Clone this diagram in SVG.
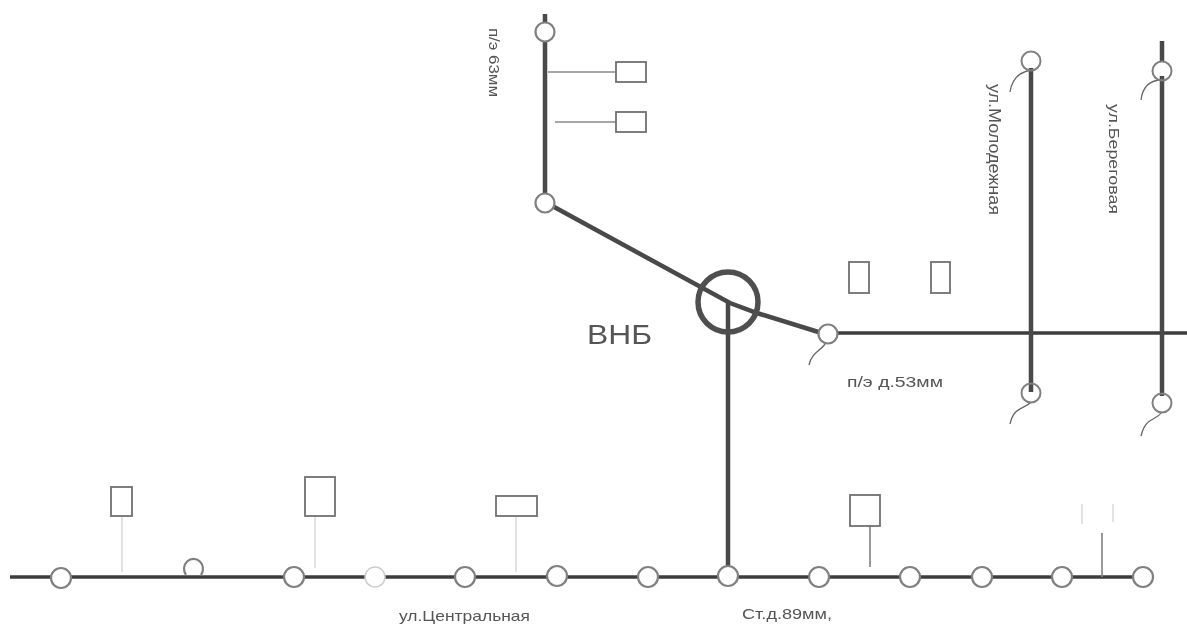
<svg xmlns="http://www.w3.org/2000/svg" width="1187" height="624" viewBox="0 0 1187 624">
<defs><filter id="soft" x="0" y="0" width="100%" height="100%" filterUnits="objectBoundingBox"><feGaussianBlur stdDeviation="0.55"/></filter></defs>
<style>
.m{fill:none;stroke:#484848;stroke-width:4.5}
.t{fill:none;stroke:#3c3c3c;stroke-width:3.5}
.f{fill:none;stroke:#888;stroke-width:1.7}
.p{fill:none;stroke:#d8d8d8;stroke-width:1.5}
.h{fill:none;stroke:#666;stroke-width:1.3}
.n{fill:#fff;stroke:#808080;stroke-width:2.2}
.o{fill:none;stroke:#808080;stroke-width:2}
.r{fill:#fff;stroke:#707070;stroke-width:1.8}
text{font-family:"Liberation Sans",Arial,sans-serif;fill:#555}
</style>
<rect width="1187" height="624" fill="#fff"/>
<g filter="url(#soft)">
<g id="connectors">
<path class="m" d="M545 14V202"/>
<path class="m" d="M545 202L730 303L757 313L828 335"/>
<path class="m" d="M728 303V577"/>
<path class="t" d="M828 333H1187"/>
<path class="m" d="M1031 68V392"/>
<path class="m" d="M1162 41V62M1162 76V396"/>
<path class="t" d="M10 577H1143"/>
<path class="f" d="M548 72H616"/>
<path class="f" d="M555 122H616"/>
<path class="p" d="M122 517V572"/>
<path class="p" d="M315 517V568"/>
<path class="p" d="M516 517V572"/>
<path class="f" d="M870 526V567"/>
<path class="f" d="M1102 533V577"/>
<path class="p" d="M1082 504V524"/>
<path class="p" d="M1113 504V522"/>
<path class="h" d="M1031 70C1020 72 1012 78 1010 92"/>
<path class="h" d="M1162 80C1152 80 1143 84 1141 100"/>
<path class="h" d="M1031 402C1024 410 1014 406 1010 424"/>
<path class="h" d="M1162 412C1155 422 1146 416 1141 436"/>
<path class="h" d="M827 338C826 350 812 350 809 365"/>
</g>
<g id="vnb"><circle cx="728" cy="302" r="30" fill="none" stroke="#505050" stroke-width="5.500"/><text x="587" y="344" font-size="28" textLength="65" lengthAdjust="spacingAndGlyphs">ВНБ</text></g>
<g id="n-top1"><circle class="n" cx="545" cy="32" r="9.500"/></g>
<g id="n-top2"><circle class="n" cx="545" cy="203" r="9.500"/></g>
<g id="n-e"><circle class="n" cx="828" cy="334" r="9.500"/></g>
<g id="n-m1"><circle class="o" cx="1031" cy="61" r="9.500"/></g>
<g id="n-m2"><circle class="o" cx="1031" cy="393" r="9.500"/></g>
<g id="n-b1"><circle class="o" cx="1162" cy="71" r="9.500"/></g>
<g id="n-b2"><circle class="o" cx="1162" cy="403" r="9.500"/></g>
<g id="bottom-nodes">
<circle class="n" cx="61" cy="578" r="10"/>
<path class="n" d="M186 575A9.500 10 0 1 1 201 575"/>
<circle class="n" cx="294" cy="577" r="10"/>
<circle cx="375" cy="577" r="10" fill="#fff" stroke="#ccc" stroke-width="1.500"/>
<circle class="n" cx="465" cy="577" r="10"/>
<circle class="n" cx="557" cy="576" r="10"/>
<circle class="n" cx="648" cy="577" r="10"/>
<circle class="n" cx="728" cy="576" r="10"/>
<circle class="n" cx="819" cy="577" r="10"/>
<circle class="n" cx="910" cy="577" r="10"/>
<circle class="n" cx="982" cy="577" r="10"/>
<circle class="n" cx="1062" cy="577" r="10"/>
<circle class="n" cx="1143" cy="577" r="10"/>
</g>
<g id="b1"><rect class="r" x="616" y="62" width="30" height="20"/></g>
<g id="b2"><rect class="r" x="616" y="112" width="30" height="20"/></g>
<g id="b3"><rect class="r" x="849" y="262" width="20" height="31"/></g>
<g id="b4"><rect class="r" x="931" y="262" width="19" height="31"/></g>
<g id="b5"><rect class="r" x="111" y="487" width="21" height="29"/></g>
<g id="b6"><rect class="r" x="305" y="477" width="30" height="39"/></g>
<g id="b7"><rect class="r" x="496" y="496" width="41" height="20"/></g>
<g id="b8"><rect class="r" x="850" y="495" width="30" height="31"/></g>
<g id="labels">
<text transform="translate(489 28) rotate(90)" font-size="14" textLength="69" lengthAdjust="spacingAndGlyphs">п/э 63мм</text>
<text transform="translate(989 84) rotate(90)" font-size="16" textLength="131" lengthAdjust="spacingAndGlyphs">ул.Молодежная</text>
<text transform="translate(1109 104) rotate(90)" font-size="15" textLength="110" lengthAdjust="spacingAndGlyphs">ул.Береговая</text>
<text x="847" y="387" font-size="14" textLength="96" lengthAdjust="spacingAndGlyphs">п/э д.53мм</text>
<text x="399" y="621" font-size="15" textLength="131" lengthAdjust="spacingAndGlyphs">ул.Центральная</text>
<text x="742" y="619" font-size="15" textLength="90" lengthAdjust="spacingAndGlyphs">Ст.д.89мм,</text>
</g>
</g>
</svg>
